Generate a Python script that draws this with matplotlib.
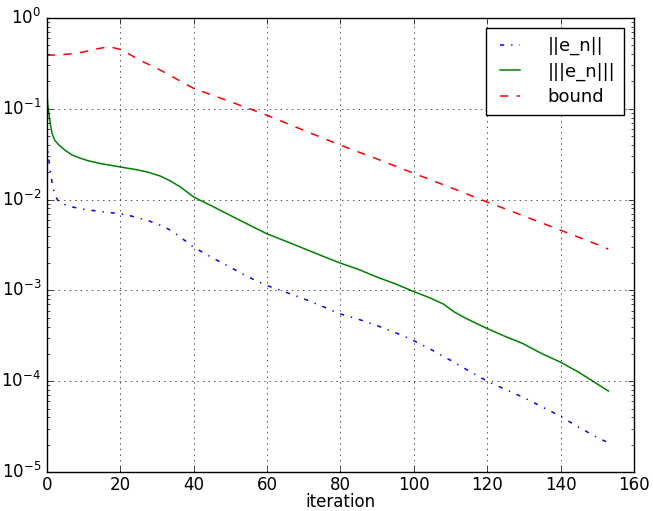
import matplotlib
matplotlib.use("Agg")
import matplotlib.pyplot as plt

# ||e_n||  (blue, dash-dot)
it_e = [0, 0.7, 1.5, 2.2, 3.3, 5, 6.9, 9.5, 12.3, 16, 20, 23, 25.5, 28, 30, 32.5, 34.5, 37, 40,
        45, 50, 55, 60, 65, 70, 75, 80, 85, 90, 96, 100, 105, 110, 115, 120, 125, 130, 135,
        140, 145, 150, 153]
e_n = [0.045, 0.025, 0.015, 0.0112, 0.0094, 0.0088, 0.0083, 0.0079, 0.0076, 0.0073, 0.0070,
       0.0066, 0.0062, 0.0058, 0.0054, 0.0049, 0.0044, 0.0037, 0.0030,
       0.0023, 0.0018, 0.0014, 0.00113, 0.00096, 0.00081, 0.00067, 0.00055, 0.00048,
       0.00041, 0.00033, 0.00028, 0.00022, 0.00017, 0.00013, 0.0001, 0.000081, 0.000066,
       0.000052, 0.000041, 0.000031, 0.000024, 0.000021]

# |||e_n|||  (green, solid)
it_E = [0, 0.3, 0.7, 1.1, 1.5, 2.2, 3.3, 5, 6.9, 9, 11.4, 15, 20, 24, 27.3, 30.9, 33.5, 36.4,
        40, 45, 50, 55, 60, 65, 70, 75, 80, 85, 90, 95, 100, 104, 108, 111, 114.3, 120, 125,
        129.7, 135, 140, 145, 148.8, 153]
E_n = [0.161, 0.11, 0.082, 0.064, 0.053, 0.045, 0.040, 0.035, 0.031, 0.0287, 0.0267, 0.0248,
       0.0229, 0.0215, 0.0202, 0.0182, 0.0162, 0.0138,
       0.0107, 0.0085, 0.0067, 0.0053, 0.0042, 0.0035, 0.0029, 0.0024, 0.0020, 0.0017,
       0.0014, 0.00118, 0.00097, 0.00084, 0.00071, 0.00058, 0.00049, 0.00038, 0.00031,
       0.00026, 0.0002, 0.000162, 0.000125, 0.0001, 0.000078]

# bound  (red, dashed)
it_b = [0, 3, 6, 9, 11.6, 14, 17, 20, 22.5, 25.2, 30, 34.3, 40, 50, 60, 70, 80, 90, 100,
        110, 120, 130, 140, 150, 153]
bound = [0.389, 0.392, 0.40, 0.415, 0.437, 0.46, 0.483, 0.452, 0.40, 0.345, 0.28, 0.225,
         0.168, 0.12, 0.085, 0.058, 0.0398, 0.028, 0.0195, 0.0136, 0.0094, 0.0066, 0.0046,
         0.0032, 0.00285]

labels = ["||e_n||", "|||e_n|||", "bound"]

plt.style.use("classic")
W, H = 653, 511
fig = plt.figure(figsize=(W / 100, H / 100), dpi=100, facecolor="white")
ax = fig.add_axes([46.7 / W, 1 - 472 / H, (634 - 46.7) / W, (472 - 18) / H])
ax.semilogy(it_e, e_n, "b-.", label=labels[0], linewidth=1.1)
ax.semilogy(it_E, E_n, "g-", label=labels[1], linewidth=1.1)
ax.semilogy(it_b, bound, "r--", label=labels[2], linewidth=1.1)
ax.set_xlim(0, 160)
ax.set_ylim(1e-5, 1e0)
ax.grid(True, which="major", linestyle=":", color="black", linewidth=0.5)
ax.tick_params(axis="both", which="major", labelsize=12)
ax.tick_params(axis="x", which="major", pad=3)
ax.set_xlabel("iteration", fontsize=12, labelpad=-0.5)
ax.legend(loc="upper right", fontsize=13, handlelength=1.7, borderaxespad=0.55,
          labelspacing=0.4, handletextpad=1.2, borderpad=0.5)
fig.savefig("out.png", dpi=100, facecolor="white")
